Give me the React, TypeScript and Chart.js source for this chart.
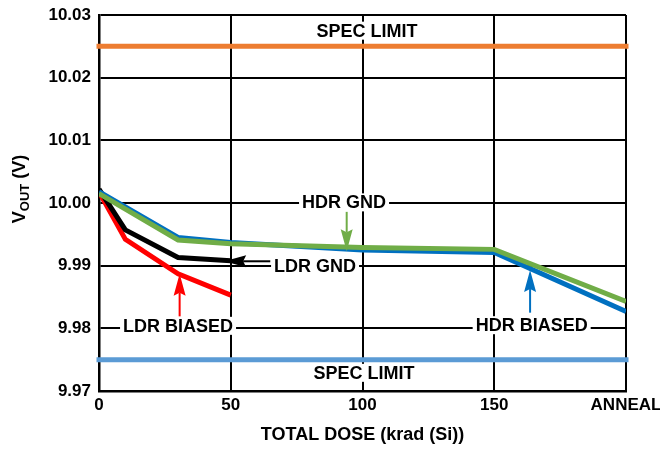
import { useEffect, useRef } from 'react';
import { Chart, registerables } from 'chart.js';

Chart.register(...registerables);

// ---- data ----
const doseTicks = [0, 50, 100, 150, 200];
const doseTickLabels = ['0', '50', '100', '150', 'ANNEAL'];
const voutTicks = [9.97, 9.98, 9.99, 10.0, 10.01, 10.02, 10.03];

const ldrDose = [0, 10, 30, 50];
const ldrBiasedVout = [10.0018, 9.9942, 9.9887, 9.9853];
const ldrGndVout = [10.0022, 9.9957, 9.9913, 9.9908];
const hdrDose = [0, 30, 50, 100, 150, 200];
const hdrGndVout = [10.0015, 9.9941, 9.9935, 9.9929, 9.9926, 9.9843];
const hdrBiasedVout = [10.0018, 9.9945, 9.9937, 9.9925, 9.9921, 9.9827];
const specDose = [0, 200];
const specHigh = [10.025, 10.025];
const specLow = [9.975, 9.975];

// annotation text (data coordinates)
const noteText = ['SPEC LIMIT', 'SPEC LIMIT', 'HDR GND', 'LDR GND', 'LDR BIASED', 'HDR BIASED'];
const noteDose = [101.7, 100.6, 93, 82, 30, 164.2];
const noteVout = [10.0275, 9.9729, 10.0001, 9.99, 9.9804, 9.9805];

// arrows (data coordinates): tail -> tip
const arrowColor = ['#70AD47', '#000000', '#FF0000', '#0070C0'];
const arrowTailDose = [94, 65, 30.6, 163.6];
const arrowTailVout = [9.9986, 9.9907, 9.9819, 9.9825];
const arrowTipDose = [94, 47.5, 30.6, 163.6];
const arrowTipVout = [9.9923, 9.9907, 9.9887, 9.9893];

const FONT = '"Liberation Sans", Arial, sans-serif';

const pts = (xs: number[], ys: number[]) => xs.map((x, i) => ({ x, y: ys[i] }));

const annotationPlugin = {
  id: 'annotations',
  afterDatasetsDraw(chart: any) {
    const { ctx, scales } = chart;
    const xs = scales.x;
    const ys = scales.y;
    ctx.save();
    for (let i = 0; i < arrowColor.length; i++) {
      const x1 = xs.getPixelForValue(arrowTailDose[i]);
      const y1 = ys.getPixelForValue(arrowTailVout[i]);
      const x2 = xs.getPixelForValue(arrowTipDose[i]);
      const y2 = ys.getPixelForValue(arrowTipVout[i]);
      const ang = Math.atan2(y2 - y1, x2 - x1);
      const headLen = 22;
      const headW = 6;
      const notch = 3;
      const c = Math.cos(ang);
      const s = Math.sin(ang);
      const bx = x2 - headLen * c;
      const by = y2 - headLen * s;
      ctx.strokeStyle = arrowColor[i];
      ctx.fillStyle = arrowColor[i];
      ctx.lineWidth = 2;
      ctx.beginPath();
      ctx.moveTo(x1, y1);
      ctx.lineTo(x2 - (headLen - notch) * c, y2 - (headLen - notch) * s);
      ctx.stroke();
      ctx.beginPath();
      ctx.moveTo(x2, y2);
      ctx.lineTo(bx + headW * s, by - headW * c);
      ctx.lineTo(x2 - (headLen - notch) * c, y2 - (headLen - notch) * s);
      ctx.lineTo(bx - headW * s, by + headW * c);
      ctx.closePath();
      ctx.fill();
    }
    ctx.font = `bold 18px ${FONT}`;
    ctx.textAlign = 'center';
    ctx.textBaseline = 'middle';
    for (let i = 0; i < noteText.length; i++) {
      const x = xs.getPixelForValue(noteDose[i]);
      const y = ys.getPixelForValue(noteVout[i]);
      const w = ctx.measureText(noteText[i]).width;
      ctx.fillStyle = '#ffffff';
      ctx.fillRect(x - w / 2 - 3, y - 9, w + 6, 18);
      ctx.fillStyle = '#000000';
      ctx.fillText(noteText[i], x, y + 1);
    }
    ctx.restore();
  },
  afterDraw(chart: any) {
    const { ctx } = chart;
    ctx.save();
    ctx.translate(20, 189);
    ctx.rotate(-Math.PI / 2);
    ctx.fillStyle = '#000';
    ctx.textBaseline = 'middle';
    ctx.textAlign = 'left';
    const big = `bold 18px ${FONT}`;
    const small = `bold 13px ${FONT}`;
    ctx.font = big;
    const wV = ctx.measureText('V').width;
    const wRest = ctx.measureText(' (V)').width;
    ctx.font = small;
    const wSub = ctx.measureText('OUT').width;
    let x = -(wV + wSub + wRest) / 2;
    ctx.font = big;
    ctx.fillText('V', x, 0);
    x += wV;
    ctx.font = small;
    ctx.fillText('OUT', x, 5);
    x += wSub;
    ctx.font = big;
    ctx.fillText(' (V)', x, 0);
    ctx.restore();
  },
};

export default function App() {
  const ref = useRef<HTMLCanvasElement>(null);
  useEffect(() => {
    document.body.style.margin = '0';
    if (!ref.current) return;
    const chart = new Chart(ref.current, {
      type: 'line',
      data: {
        datasets: [
          { label: 'HDR GND', data: pts(hdrDose, hdrGndVout), borderColor: '#70AD47', borderWidth: 5, pointRadius: 0 },
          { label: 'HDR BIASED', data: pts(hdrDose, hdrBiasedVout), borderColor: '#0070C0', borderWidth: 5, pointRadius: 0 },
          { label: 'LDR GND', data: pts(ldrDose, ldrGndVout), borderColor: '#000000', borderWidth: 5, pointRadius: 0 },
          { label: 'LDR BIASED', data: pts(ldrDose, ldrBiasedVout), borderColor: '#FF0000', borderWidth: 5, pointRadius: 0 },
          { label: 'SPEC HIGH', data: pts(specDose, specHigh), borderColor: '#ED7D31', borderWidth: 5, pointRadius: 0, borderCapStyle: 'square', clip: false },
          { label: 'SPEC LOW', data: pts(specDose, specLow), borderColor: '#5B9BD5', borderWidth: 5, pointRadius: 0, borderCapStyle: 'square', clip: false },
        ] as any,
      },
      options: {
        animation: false,
        responsive: false,
        devicePixelRatio: 1,
        layout: { padding: { left: 0, right: 34, top: 15, bottom: 0 } },
        plugins: { legend: { display: false }, tooltip: { enabled: false } },
        elements: { line: { tension: 0 } },
        scales: {
          x: {
            type: 'linear',
            min: 0,
            max: 200,
            afterBuildTicks: (s: any) => { s.ticks = doseTicks.map((v) => ({ value: v })); },
            afterFit: (s: any) => { s.height = 58; s.paddingLeft = 0; s.paddingRight = 0; },
            ticks: {
              callback: (v: any) => doseTickLabels[doseTicks.indexOf(Number(v))] ?? '',
              color: '#000',
              font: { family: FONT, size: 17, weight: 'bold' },
              padding: 4,
              maxRotation: 0,
            },
            grid: { color: '#000', lineWidth: 2, drawTicks: false },
            border: { color: '#000', width: 2.5 },
            title: {
              display: true,
              text: 'TOTAL DOSE (krad (Si))',
              color: '#000',
              font: { family: FONT, size: 18, weight: 'bold' },
              padding: { top: 0, bottom: 3 },
            },
          },
          y: {
            type: 'linear',
            min: 9.97,
            max: 10.03,
            afterBuildTicks: (s: any) => { s.ticks = voutTicks.map((v) => ({ value: v })); },
            afterFit: (s: any) => { s.width = 99; s.paddingTop = 0; s.paddingBottom = 0; },
            ticks: {
              callback: (v: any) => Number(v).toFixed(2),
              color: '#000',
              font: { family: FONT, size: 17, weight: 'bold' },
              padding: 8,
            },
            grid: { color: '#000', lineWidth: 2, drawTicks: false },
            border: { color: '#000', width: 2.5 },
          },
        },
      },
      plugins: [annotationPlugin],
    });
    return () => chart.destroy();
  }, []);
  return (
    <div style={{ width: 660, height: 449 }}>
      <canvas ref={ref} width={660} height={449} />
    </div>
  );
}
